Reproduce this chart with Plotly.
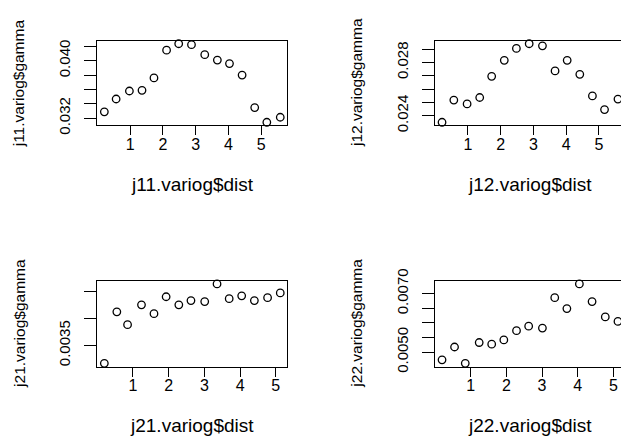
import plotly.graph_objects as go

W, H = 621, 447

# ---------------- data ----------------
j11_dist = [0.21, 0.57, 0.975, 1.36, 1.725, 2.11, 2.48, 2.87, 3.275, 3.66, 4.03, 4.415, 4.80, 5.17, 5.58]
j11_gamma = [0.03289, 0.03467, 0.03578, 0.03587, 0.03760, 0.04147, 0.04236, 0.04223,
             0.04084, 0.04009, 0.03960, 0.03800, 0.03347, 0.03143, 0.03213]

j12_dist = [0.21, 0.57, 0.975, 1.36, 1.725, 2.11, 2.48, 2.87, 3.275, 3.66, 4.03, 4.415, 4.80, 5.17, 5.58]
j12_gamma = [0.02351, 0.02518, 0.02489, 0.02537, 0.02696, 0.02816, 0.02906, 0.02941,
             0.02925, 0.02737, 0.02816, 0.02711, 0.02549, 0.02446, 0.02525]

j21_dist = [0.20, 0.55, 0.85, 1.24, 1.59, 1.93, 2.285, 2.625, 3.01, 3.355, 3.695, 4.045, 4.40, 4.77, 5.125]
j21_gamma = [0.003165, 0.004129, 0.003889, 0.004260, 0.004093, 0.004410, 0.004260, 0.004338,
             0.004320, 0.004650, 0.004374, 0.004428, 0.004338, 0.004392, 0.004482]

j22_dist = [0.20, 0.55, 0.85, 1.24, 1.59, 1.93, 2.285, 2.625, 3.01, 3.355, 3.695, 4.045, 4.40, 4.77, 5.125]
j22_gamma = [0.004738, 0.005175, 0.004617, 0.005328, 0.005273, 0.005415, 0.005732, 0.005885,
             0.005820, 0.006858, 0.006486, 0.007328, 0.006727, 0.006202, 0.006049]

x_ticks = [1, 2, 3, 4, 5]
x_ticklabels = ["1", "2", "3", "4", "5"]

j11_yticks = [0.032, 0.034, 0.036, 0.038, 0.040, 0.042]
j11_yticklabels = ["0.032", "", "", "", "0.040", ""]
j12_yticks = [0.024, 0.025, 0.026, 0.027, 0.028, 0.029]
j12_yticklabels = ["0.024", "", "", "", "0.028", ""]
j21_yticks = [0.0035, 0.0040, 0.0045]
j21_yticklabels = ["0.0035", "", ""]
j22_yticks = [0.0050, 0.0055, 0.0060, 0.0065, 0.0070]
j22_yticklabels = ["0.0050", "", "", "", "0.0070"]

names = ["j11", "j12", "j21", "j22"]
dists = [j11_dist, j12_dist, j21_dist, j22_dist]
gammas = [j11_gamma, j12_gamma, j21_gamma, j22_gamma]
yticks = [j11_yticks, j12_yticks, j21_yticks, j22_yticks]
yticklabels = [j11_yticklabels, j12_yticklabels, j21_yticklabels, j22_yticklabels]

# ---------------- layout (pixels) ----------------
BOX_W = 190.0
col_left = [97.3, 435.0]          # left edge of plot box for each column
row_top = [30.0, 282.0]           # top edge of plot box for each row
row_bot = [119.0, 372.0]          # bottom edge of plot box

FONT = "Liberation Sans, Arial, sans-serif"


def r_range(vals):
    lo, hi = min(vals), max(vals)
    pad = 0.04 * (hi - lo)
    return lo - pad, hi + pad


fig = go.Figure()
layout_axes = {}
annotations = []

for i, nm in enumerate(names):
    r, c = divmod(i, 2)
    left = col_left[c]
    right = min(left + BOX_W, W)
    frac = (right - left) / BOX_W
    top, bot = row_top[r], row_bot[r]

    xlo, xhi = r_range(dists[i])
    xhi_vis = xlo + (xhi - xlo) * frac
    ylo, yhi = r_range(gammas[i])

    k = "" if i == 0 else str(i + 1)
    fig.add_trace(go.Scatter(
        x=dists[i], y=gammas[i], mode="markers",
        marker=dict(symbol="circle-open", size=7.5, color="black", line=dict(width=1.3, color="black")),
        xaxis="x" + k, yaxis="y" + k, cliponaxis=False, showlegend=False,
    ))

    layout_axes["xaxis" + k] = dict(
        domain=[left / W, right / W], anchor="y" + k,
        range=[xlo, xhi_vis], tickvals=x_ticks, ticktext=x_ticklabels,
        ticks="outside", ticklen=9, tickwidth=1, tickcolor="black",
        showline=True, mirror=True, linecolor="black", linewidth=1,
        showgrid=False, zeroline=False, ticklabelstandoff=-5,
        tickfont=dict(family=FONT, size=16, color="black"),
    )
    layout_axes["yaxis" + k] = dict(
        domain=[(H - bot) / H, (H - top) / H], anchor="x" + k,
        range=[ylo, yhi], tickvals=yticks[i], ticktext=yticklabels[i],
        ticks="outside", ticklen=12, tickwidth=1, tickcolor="black",
        showline=True, mirror=(c == 0), linecolor="black", linewidth=1,
        showgrid=False, zeroline=False, tickangle=-90, ticklabelstandoff=8,
        tickfont=dict(family=FONT, size=15, color="black"),
    )

    # axis titles (as in R: below / left of box)
    annotations.append(dict(
        text=f"{nm}.variog$dist", xref="paper", yref="paper",
        x=(left + BOX_W / 2) / W, y=(H - (bot + 62)) / H,
        xanchor="center", yanchor="middle", showarrow=False,
        font=dict(family=FONT, size=19, color="black"),
    ))
    annotations.append(dict(
        text=f"{nm}.variog$gamma", xref="paper", yref="paper",
        x=(left - 78) / W, y=(H - (top + bot) / 2) / H,
        xanchor="center", yanchor="middle", textangle=-90, showarrow=False,
        font=dict(family=FONT, size=15.5, color="black"),
    ))

fig.update_layout(
    width=W, height=H,
    margin=dict(l=0, r=0, t=0, b=0),
    paper_bgcolor="white", plot_bgcolor="white",
    annotations=annotations,
    **layout_axes,
)

fig.write_html("out.html")
